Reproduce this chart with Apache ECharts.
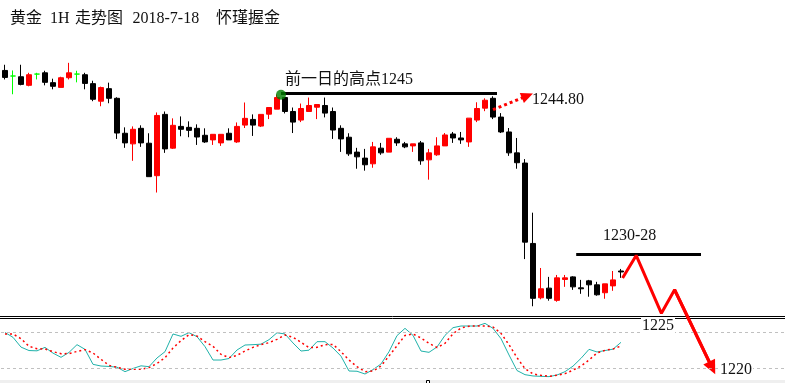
<!DOCTYPE html>
<html><head><meta charset="utf-8">
<script src="https://cdn.jsdelivr.net/npm/echarts@6/dist/echarts.min.js"></script>
<style>html,body{margin:0;padding:0;background:#fff;}#c{width:785px;height:383px;}</style>
</head><body><div id="c"></div>
<script>
// ---- candle data (hourly gold) ----
const openP  = [1247.16,1246.64,1246.57,1245.77,1246.82,1246.94,1246.02,1245.58,1246.48,1246.82,
 1246.76,1245.93,1244.29,1245.46,1244.56,1241.30,1240.31,1241.76,1240.37,1237.34,
 1243.06,1239.91,1241.94,1241.85,1241.76,1241.11,1240.68,1240.40,1241.30,1240.49,
 1242.06,1242.59,1241.97,1243.08,1243.55,1244.63,1243.33,1242.53,1243.33,1243.73,
 1243.89,1243.33,1241.76,1240.93,1239.54,1238.98,1238.45,1239.91,1239.54,1240.74,
 1240.31,1240.12,1240.40,1238.82,1239.29,1240.12,1241.23,1240.86,1240.49,1242.53,
 1243.64,1244.56,1242.81,1241.42,1239.47,1238.52,1231.02,1225.95,1226.85,1225.71,
 1227.66,1227.90,1226.88,1227.53,1227.16,1226.42,1227.06,1228.45];
const closeP = [1246.51,1246.64,1245.86,1246.76,1246.82,1246.05,1245.68,1246.48,1246.94,1246.82,
 1245.95,1244.47,1245.56,1244.56,1241.32,1240.40,1241.67,1240.40,1237.25,1242.96,
 1239.84,1242.04,1241.67,1241.57,1240.95,1240.49,1241.20,1241.20,1240.68,1241.94,
 1242.69,1242.06,1243.06,1243.70,1244.63,1243.33,1242.34,1243.61,1243.89,1243.98,
 1243.18,1241.60,1240.77,1239.38,1239.10,1238.36,1240.03,1239.47,1240.83,1240.40,
 1240.03,1240.31,1238.73,1239.47,1240.12,1241.14,1240.86,1240.68,1242.71,1243.61,
 1244.38,1242.81,1241.42,1239.47,1238.55,1231.14,1225.90,1226.79,1225.90,1227.81,
 1227.81,1226.97,1226.79,1227.16,1226.23,1227.25,1227.62,1228.36];
const lowP   = [1246.32,1244.94,1245.77,1245.68,1246.32,1245.77,1245.40,1245.58,1246.32,1246.05,
 1245.40,1244.29,1243.82,1244.10,1240.77,1239.94,1238.73,1240.03,1237.25,1235.77,
 1239.47,1239.84,1241.02,1240.93,1240.21,1240.40,1240.21,1240.12,1240.68,1240.40,
 1241.79,1241.05,1241.88,1242.62,1243.55,1243.15,1241.32,1242.34,1243.33,1242.62,
 1242.78,1240.77,1239.56,1239.19,1237.99,1237.81,1238.08,1239.29,1239.54,1240.12,
 1239.91,1239.56,1238.36,1236.97,1239.19,1240.12,1240.40,1240.31,1240.03,1242.34,
 1243.36,1242.62,1241.32,1239.19,1237.99,1229.56,1225.16,1225.81,1225.68,1225.58,
 1226.97,1226.69,1226.32,1226.05,1226.14,1225.86,1226.60,1227.81];
const highP  = [1247.69,1247.16,1247.69,1246.94,1246.94,1247.13,1246.39,1246.57,1247.87,1247.13,
 1246.94,1246.20,1245.65,1246.02,1244.66,1241.85,1241.94,1242.04,1241.30,1243.24,
 1243.33,1242.69,1242.87,1242.41,1242.13,1241.76,1241.20,1241.20,1241.76,1242.31,
 1244.17,1243.06,1243.06,1243.70,1244.91,1244.63,1243.70,1244.07,1244.63,1243.98,
 1244.63,1243.70,1242.04,1241.30,1239.94,1239.84,1240.49,1240.40,1240.83,1240.93,
 1240.49,1240.31,1240.58,1239.84,1240.93,1241.32,1241.42,1241.42,1242.71,1244.19,
 1244.56,1244.75,1243.18,1241.79,1240.86,1238.89,1233.89,1228.73,1227.90,1228.08,
 1228.08,1227.96,1227.62,1227.62,1227.44,1227.25,1228.45,1228.64];
const dojiIdx = [1, 4, 9];
const slotCount = 98;

// ---- oscillator (sub panel) ----
const kLine = [79.2,71.1,54.8,49.1,48.6,54.4,44.8,37.8,46,58.9,
 51.1,26.1,23.3,22.6,21.4,13.9,19.2,23.6,22.2,36.7,
 47.2,76.7,72.8,78.9,72.2,55.6,33.3,33.3,35.8,50,
 58.3,58.9,59.7,67.2,78.7,76.7,61.7,48.3,49.7,63.9,
 63.9,53.3,39.7,15,14.6,10,17.3,26.7,47.2,74,
 86.1,74.4,48.3,46.1,55,74.4,87.2,90,90,90,
 94.4,86.1,68.9,41.7,15.8,8.9,6.7,6.1,5.6,8.3,
 13.9,23.1,36.1,51.1,46.7,49.1,51.4,62.8];
const dLine = [76.7,76.7,68.9,56.1,52.2,51.7,47.2,43.9,44,47.6,
 50.6,45,34.4,24.4,21.1,17.8,17.8,17.8,20.6,27.5,
 37.2,53.3,65.6,75.6,73.3,63.9,56.1,42.8,37.2,41.1,
 48.3,54.4,58.9,62.2,67.8,75,71.4,62.8,53.9,54.4,
 58.9,59.4,47.2,33.3,22.2,13.9,15,23.3,40,57,
 74.2,76.7,70,61.1,54.2,61.1,77.2,86.7,89.7,90,
 90,88.3,77.8,58.9,37.2,18.9,10.1,7.8,6.1,7.8,
 10.6,16.4,23.3,33.3,45,49.4,51.7,56.7];
const oscLevels = [80, 20];

// ---- hand-drawn annotations (slot index, price) ----
const prevHighLine = [[34.5, 1245], [61.5, 1245]];
const prevHighDot = [[34.5, 1244.9]];
const dottedArrow = [[61, 1243.5], [65.3, 1244.8]];
const targetLine = [[71.4, 1230], [87, 1230]];
const zigzag = [[77.2, 1227.8], [78.9, 1229.9], [82.05, 1224.5], [83.7, 1226.7], [88.4, 1219.4]];

const titleParts = [['黄金', 10], ['1H', 50], ['走势图', 75], ['2018-7-18', 132.5], ['怀瑾握金', 216]];

const slots = [];
for (let i = 0; i < slotCount; i++) slots.push(String(i));

const green = '#00ff00';
const kData = openP.map((o, i) => {
  const v = [o, closeP[i], lowP[i], highP[i]];
  if (dojiIdx.includes(i)) {
    return {value: v, itemStyle: {color: green, color0: green, borderColor: green, borderColor0: green, borderColorDoji: green}};
  }
  return v;
});

const FONT = '16px "Liberation Serif", "Noto Sans CJK SC", serif';
function txt(t, x, y, bg) {
  const st = {text: t, font: FONT, fill: '#111', verticalAlign: 'middle', align: 'left'};
  if (bg) { st.backgroundColor = '#fff'; st.padding = [1, 1]; }
  return {type: 'text', x: x, y: y, z: 100, style: st, silent: true};
}

const chart = echarts.init(document.getElementById('c'), null, {renderer: 'canvas'});
const graphics = [
  {type: 'line', shape: {x1: 0, y1: 316.5, x2: 785, y2: 316.5}, style: {stroke: '#000', lineWidth: 1}, z: 1, silent: true},
  {type: 'line', shape: {x1: 0, y1: 318.5, x2: 785, y2: 318.5}, style: {stroke: '#000', lineWidth: 1}, z: 1, silent: true},
  {type: 'rect', shape: {x: 0, y: 380, width: 785, height: 3}, style: {fill: '#efefef'}, z: 1, silent: true},
  {type: 'rect', shape: {x: 426.5, y: 380.5, width: 3, height: 3}, style: {fill: '#fff', stroke: '#000', lineWidth: 1}, z: 2, silent: true},
  txt('前一日的高点1245', 285, 80),
  txt('1244.80', 532, 100),
  txt('1230-28', 603, 236),
  txt('1225', 641, 326, true),
  txt('1220', 719, 369.5, true)
];
titleParts.forEach(p => graphics.push(txt(p[0], p[1], 19)));

const noLabel = {show: false};
chart.setOption({
  animation: false,
  backgroundColor: '#fff',
  grid: [
    {left: 1, width: 784, top: 40, height: 345.6},
    {left: 1, width: 784, top: 320, height: 60}
  ],
  xAxis: [
    {type: 'category', gridIndex: 0, data: slots, show: false},
    {type: 'value', gridIndex: 0, min: -0.5, max: slotCount - 0.5, show: false},
    {type: 'category', gridIndex: 1, data: slots, show: false}
  ],
  yAxis: [
    {type: 'value', gridIndex: 0, min: 1218, max: 1250, show: false},
    {type: 'value', gridIndex: 1, min: 0, max: 100, show: false}
  ],
  series: [
    {
      type: 'candlestick', xAxisIndex: 0, yAxisIndex: 0, data: kData, barWidth: 5, barMinWidth: 5,
      itemStyle: {color: '#ff0000', color0: '#000000', borderColor: '#ff0000', borderColor0: '#000000', borderWidth: 1},
      z: 3
    },
    {
      type: 'line', xAxisIndex: 1, yAxisIndex: 0, data: prevHighLine, symbol: 'none', silent: true,
      lineStyle: {color: '#000', width: 3}, z: 5,
      markLine: {
        silent: true, animation: false, symbol: ['none', 'triangle'], symbolSize: [11, 12],
        label: noLabel, lineStyle: {color: '#ff0000', width: 3, type: [3, 3]},
        data: [[{coord: dottedArrow[0]}, {coord: dottedArrow[1]}]]
      }
    },
    {
      type: 'scatter', xAxisIndex: 1, yAxisIndex: 0, data: prevHighDot, symbolSize: 10, silent: true,
      itemStyle: {color: '#008000'}, z: 6
    },
    {
      type: 'line', xAxisIndex: 1, yAxisIndex: 0, data: targetLine, symbol: 'none', silent: true,
      lineStyle: {color: '#000', width: 3}, z: 5
    },
    {
      type: 'line', xAxisIndex: 1, yAxisIndex: 0, data: zigzag, symbol: 'none', silent: true,
      lineStyle: {color: '#ff0000', width: 3}, z: 7,
      markLine: {
        silent: true, animation: false, symbol: ['none', 'triangle'], symbolSize: [13, 14],
        label: noLabel, lineStyle: {color: '#ff0000', width: 3, type: 'solid'},
        data: [[{coord: zigzag[3]}, {coord: zigzag[4]}]]
      }
    },
    {
      type: 'line', xAxisIndex: 2, yAxisIndex: 1, data: kLine, symbol: 'none', silent: true,
      lineStyle: {color: '#20b2aa', width: 1}, z: 4,
      markLine: {
        silent: true, animation: false, symbol: 'none', label: noLabel,
        lineStyle: {color: '#c0c0c0', width: 1, type: [3, 3]},
        data: oscLevels.map(v => ({yAxis: v}))
      }
    },
    {
      type: 'line', xAxisIndex: 2, yAxisIndex: 1, data: dLine, symbol: 'none', silent: true,
      lineStyle: {color: '#ff0000', width: 1.5, type: [2, 3]}, z: 4
    }
  ],
  graphic: graphics
});
</script>
</body></html>
